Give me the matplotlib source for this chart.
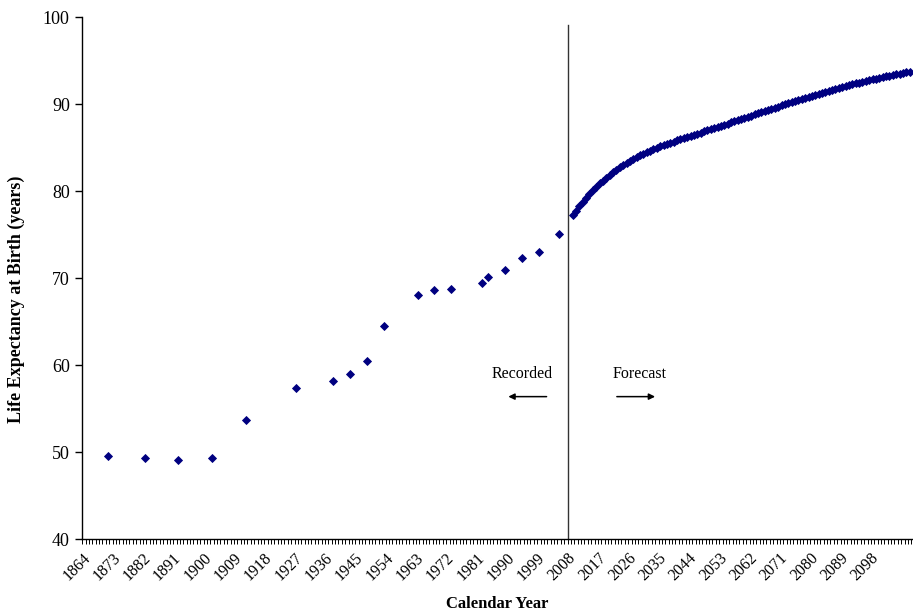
import matplotlib
matplotlib.use('Agg')
import matplotlib.pyplot as plt
import numpy as np

# recorded life expectancy (years)
recorded_years = [1871, 1882, 1892, 1902, 1912, 1927, 1938, 1943, 1948, 1953,
                  1963, 1968, 1973, 1982, 1984, 1989, 1994, 1999, 2005]
recorded_life = [49.6, 49.4, 49.1, 49.3, 53.7, 57.4, 58.2, 59.0, 60.5, 64.5,
                 68.1, 68.6, 68.8, 69.5, 70.1, 71.0, 72.3, 73.0, 75.1]

# forecast, one value per year 2009..2109
forecast_years = list(range(2009, 2110))
forecast_life = [
    77.24, 77.78, 78.30, 78.80, 79.28, 79.73, 80.15, 80.54, 80.90, 81.24,
    81.56, 81.87, 82.17, 82.46, 82.74, 83.01, 83.27, 83.51, 83.73, 83.94,
    84.14, 84.33, 84.51, 84.68, 84.85, 85.01, 85.16, 85.31, 85.45, 85.58,
    85.71, 85.84, 85.97, 86.10, 86.23, 86.36, 86.49, 86.62, 86.75, 86.88,
    87.01, 87.14, 87.27, 87.40, 87.53, 87.66, 87.79, 87.92, 88.05, 88.18,
    88.31, 88.44, 88.57, 88.70, 88.83, 88.96, 89.09, 89.22, 89.35, 89.48,
    89.61, 89.74, 89.87, 90.00, 90.13, 90.26, 90.39, 90.51, 90.63, 90.75,
    90.87, 90.99, 91.11, 91.22, 91.33, 91.44, 91.55, 91.66, 91.77, 91.88,
    91.99, 92.10, 92.20, 92.30, 92.40, 92.50, 92.60, 92.69, 92.78, 92.87,
    92.96, 93.05, 93.13, 93.21, 93.29, 93.37, 93.45, 93.53, 93.61, 93.68,
    93.76,
]

first_year = 1864
last_year = 2110
label_step = 9
split_year = 2008

plt.rcParams['font.family'] = ['Liberation Serif', 'DejaVu Serif']

fig = plt.figure(figsize=(9.13, 6.13), dpi=100)
ax = fig.add_axes([0.0901, 0.1202, 0.9099, 0.8516])

navy = '#000080'
# each year is a category, points sit in the middle of it
ax.plot(np.array(recorded_years) + 0.5, recorded_life, linestyle='none',
        marker='D', markersize=4.5, color=navy, mec=navy, mew=0.6)
ax.plot(np.array(forecast_years) + 0.5, forecast_life, linestyle='none',
        marker='D', markersize=4.5, color=navy, mec=navy, mew=0.6)

ax.plot([split_year, split_year], [40, 99.1], color='#333333', lw=1.0,
        clip_on=False)

ax.text(1994.5, 59.0, 'Recorded', ha='center', va='center', fontsize=11.5)
ax.text(2029.3, 59.0, 'Forecast', ha='center', va='center', fontsize=11.5)
ax.annotate('', xy=(1989.6, 56.4), xytext=(2002.6, 56.4),
            arrowprops=dict(arrowstyle='-|>', color='black', lw=1.1,
                            mutation_scale=9))
ax.annotate('', xy=(2034.8, 56.4), xytext=(2021.8, 56.4),
            arrowprops=dict(arrowstyle='-|>', color='black', lw=1.1,
                            mutation_scale=9))

ax.set_xlim(first_year, last_year + 0.5)
ax.set_ylim(40, 100)
ax.set_yticks(np.arange(40, 101, 10))
ax.set_xticks(np.arange(first_year, 2099, label_step))
ax.set_xticks(np.arange(first_year, last_year + 1), minor=True)
ax.set_xticklabels([str(y) for y in range(first_year, 2099, label_step)],
                   rotation=45, ha='right', rotation_mode='anchor')

ax.spines['top'].set_visible(False)
ax.spines['right'].set_visible(False)
ax.spines['left'].set_linewidth(1.0)
ax.spines['bottom'].set_linewidth(1.0)
ax.tick_params(axis='y', direction='out', length=5, width=1, labelsize=13,
               pad=4)
ax.tick_params(axis='x', which='both', direction='out', length=3.5, width=0.7,
               labelsize=11.5, pad=4)

ax.set_ylabel('Life Expectancy at Birth (years)', fontsize=13,
              fontweight='bold')
ax.yaxis.set_label_coords(-0.069, 0.46)
ax.set_xlabel('Calendar Year', fontsize=12, fontweight='bold', va='center')
ax.xaxis.set_label_coords(0.5, -0.124)

fig.savefig('out.png', dpi=100)
